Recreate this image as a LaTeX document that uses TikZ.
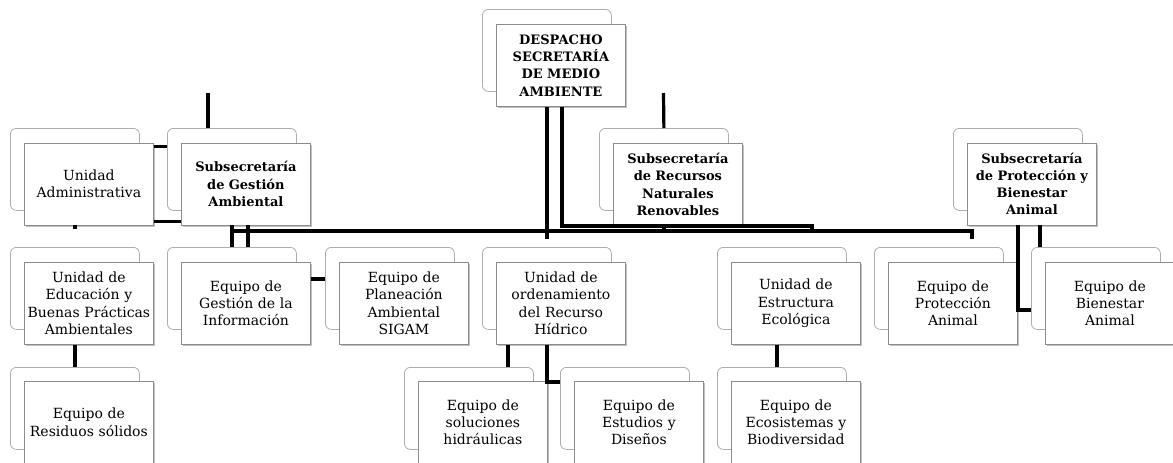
\documentclass[tikz,border=0pt]{standalone}
\usepackage{fontspec}
\setmainfont{DejaVu Serif}
\usetikzlibrary{calc,shadows}

\tikzset{
  fondo/.style={draw=black!32, fill=white, rounded corners=6pt, line width=0.8pt,
    minimum width=129pt, minimum height=82pt, inner sep=0pt, anchor=north west},
  caja/.style={draw=black!45, fill=white, line width=0.8pt,
    minimum width=129pt, minimum height=82pt, inner sep=0pt, anchor=north west,
    align=center, text width=128pt, font=\fontsize{14}{17.3}\selectfont,
    drop shadow={shadow xshift=1.3pt, shadow yshift=-1.6pt, opacity=0.35, fill=black!70}},
  jefe/.style={caja, font=\fontsize{13}{17.3}\selectfont\bfseries},
  conector/.style={line width=3.2pt, black},
}

\begin{document}
\begin{tikzpicture}[x=1pt, y=-1pt]
\useasboundingbox[fill=white] (0,0) rectangle (1173,463);

% Despacho
\node[fondo] (desp-b) at (482,9) {};
\node[jefe] (desp) at (496,24) {DESPACHO\\SECRETARÍA\\DE MEDIO\\AMBIENTE};

% Subsecretarias and Unidad Administrativa
\node[fondo] (ua-b) at (10,128) {};
\node[caja] (ua) at (24,142.5) {Unidad\\Administrativa};
\node[fondo] (sga-b) at (167,128) {};
\node[jefe] (sga) at (181,142.5) {Subsecretaría\\de Gestión\\Ambiental};
\node[fondo] (srn-b) at (599,128) {};
\node[jefe] (srn) at (613,143) {Subsecretaría\\de Recursos\\Naturales\\Renovables};
\node[fondo] (spb-b) at (953,128) {};
\node[jefe] (spb) at (967,142.5) {Subsecretaría\\de Protección y\\Bienestar\\Animal};

% Second row
\node[fondo] (edu-b) at (10,247) {};
\node[caja] (edu) at (24,262) {Unidad de\\Educación y\\Buenas Prácticas\\Ambientales};
\node[fondo] (gi-b) at (167,247) {};
\node[caja] (gi) at (181,262) {Equipo de\\Gestión de la\\Información};
\node[fondo] (pla-b) at (325,247) {};
\node[caja] (pla) at (339,262) {Equipo de\\Planeación\\Ambiental\\SIGAM};
\node[fondo] (ord-b) at (482,247) {};
\node[caja] (ord) at (496,262) {Unidad de\\ordenamiento\\del Recurso\\Hídrico};
\node[fondo] (ees-b) at (717,247) {};
\node[caja] (ees) at (731,262) {Unidad de\\Estructura\\Ecológica};
\node[fondo] (pro-b) at (874,247) {};
\node[caja] (pro) at (888,262) {Equipo de\\Protección\\Animal};
\node[fondo] (bie-b) at (1031,247) {};
\node[caja] (bie) at (1045,262) {Equipo de\\Bienestar\\Animal};

% Third row
\node[fondo] (res-b) at (10,367) {};
\node[caja] (res) at (24,381) {Equipo de\\Residuos sólidos};
\node[fondo] (sol-b) at (404,367) {};
\node[caja] (sol) at (418,381) {Equipo de\\soluciones\\hidráulicas};
\node[fondo] (est-b) at (560,367) {};
\node[caja] (est) at (574,381) {Equipo de\\Estudios y\\Diseños};
\node[fondo] (eco-b) at (717,367) {};
\node[caja] (eco) at (731,381) {Equipo de\\Ecosistemas y\\Biodiversidad};

% Main lines
\coordinate (eje-izq) at (233,231);
\coordinate (eje-der) at (972,231);
\coordinate (codo) at (812,226);
\draw[conector] (eje-izq) -- (eje-der) -- ++(0,8);
\draw[conector] ($(desp.south west)+(51,0)$) -- ++(0,132);
\draw[conector] ($(desp.south west)+(66,0)$) |- (codo) -- ++(0,7);

% Stubs above
\coordinate (sga-top) at (208,93);
\coordinate (srn-top) at (663.5,93);
\draw[conector] (sga-top) -- (sga-top |- sga-b.north);
\draw[conector] (srn-top) -- (srn-b.north);
\draw[conector] (srn-b.south |- srn.south) -- ++(0,6);

% Gestion Ambiental
\draw[conector] ([yshift=-4pt]ua.north east) -- ([yshift=-4pt]ua.north east -| sga-b.west);
\draw[conector] ([yshift=4pt]ua.south east) -- ([yshift=4pt]ua.south east -| sga.west);
\draw[conector] (ua-b.south |- ua.south) -- ++(0,4);
\draw[conector] ($(sga.south west)+(51,0)$) -- ($(gi-b.north west)+(65,0)$);
\draw[conector] ($(sga.south west)+(67,0)$) -- ($(gi-b.north west)+(81,0)$);
\draw[conector] ([yshift=-17pt]gi.north east) -- ([yshift=-17pt]gi.north east -| pla-b.west);
\draw[conector] (edu-b.south |- edu.south) -- (res-b.north);

% Recursos Naturales
\draw[conector] ($(ord.south west)+(12,0)$) coordinate (o1) -- (o1 |- sol-b.north);
\draw[conector] ($(ord.south west)+(51,0)$) |- ($(est-b.north west)+(0,15)$);
\draw[conector] ($(ees.south west)+(46,0)$) coordinate (e1) -- (e1 |- eco-b.north);

% Proteccion y Bienestar
\draw[conector] ($(spb.south west)+(51,0)$) |- ($(bie-b.north west)+(0,63)$);
\draw[conector] ($(spb.south west)+(73,0)$) -- ($(bie-b.north west)+(9,0)$);

\end{tikzpicture}
\end{document}
